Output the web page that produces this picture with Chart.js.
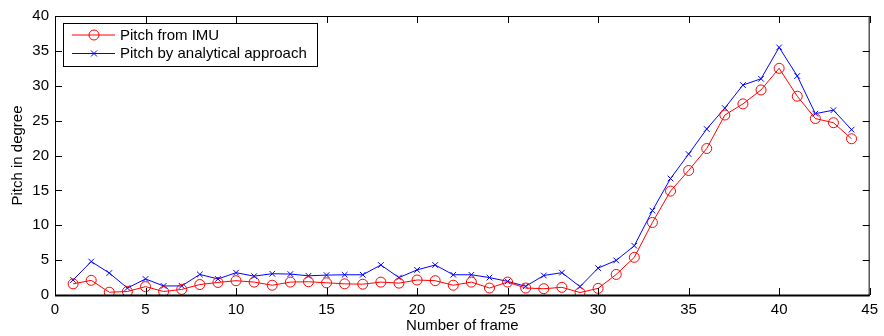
<!DOCTYPE html><html lang="en">
<head>
  <meta charset="UTF-8"/>
  <title>Pitch per frame</title>
  <script src="https://cdn.jsdelivr.net/npm/chart.js"></script>
  <style>
    *{box-sizing:border-box;margin:0;padding:0}
    body{background:#fff;width:884px;height:336px;overflow:hidden}
    canvas{display:block}
  </style>
</head>
<body>
  <canvas id="pitch" width="884" height="336"></canvas>
  <script>
    // data
    const frames = [1,2,3,4,5,6,7,8,9,10,11,12,13,14,15,16,17,18,19,20,21,22,23,24,25,26,27,28,29,30,31,32,33,34,35,36,37,38,39,40,41,42,43,44];
    const pitchImu = [1.6,2.1,0.4,0.5,1.2,0.5,0.8,1.5,1.8,2.05,1.85,1.4,1.85,1.9,1.75,1.6,1.55,1.85,1.7,2.15,2.05,1.4,1.85,1.0,1.85,1.0,0.9,1.1,0.35,0.95,2.95,5.4,10.4,14.9,17.85,21.0,25.8,27.4,29.4,32.5,28.5,25.3,24.7,22.4];
    const pitchAnalytic = [2.15,4.8,3.15,1.0,2.3,1.3,1.3,2.95,2.3,3.2,2.7,3.05,3.0,2.75,2.85,2.9,2.9,4.3,2.5,3.6,4.3,2.9,2.9,2.5,1.95,1.25,2.8,3.2,1.2,3.85,4.96,7.06,12.1,16.7,20.2,23.8,26.8,30.1,31.0,35.5,31.4,26.0,26.5,23.7];
    const xTicks = [0,5,10,15,20,25,30,35,40,45];
    const yTicks = [0,5,10,15,20,25,30,35,40];
    const seriesNames = ['Pitch from IMU','Pitch by analytical approach'];

    const FONT = "'Liberation Sans', Arial, Helvetica, sans-serif";
    const FS = 15;
    const pts = vals => frames.map((f,i)=>({x:f,y:vals[i]}));

    // MATLAB-ish box, inward ticks and legend
    const axesDeco = {
      id:'axesDeco',
      afterDraw(chart){
        const {ctx,chartArea:a,scales:{x,y}} = chart;
        ctx.save();
        ctx.strokeStyle='#000';ctx.lineWidth=1;
        ctx.strokeRect(a.left+0.5,a.top+0.5,a.right-a.left-1,a.bottom-a.top);
        ctx.beginPath();
        const tl=7;
        xTicks.forEach(v=>{
          const px=Math.round(x.getPixelForValue(v))+0.5;
          ctx.moveTo(px,a.bottom);ctx.lineTo(px,a.bottom-tl);
          ctx.moveTo(px,a.top);ctx.lineTo(px,a.top+tl);
        });
        yTicks.forEach(v=>{
          const py=Math.round(y.getPixelForValue(v))+0.5;
          ctx.moveTo(a.left,py);ctx.lineTo(a.left+tl,py);
          ctx.moveTo(a.right,py);ctx.lineTo(a.right-tl,py);
        });
        ctx.stroke();
        ctx.lineWidth=2;
        ctx.beginPath();ctx.moveTo(a.left,a.bottom+0.5);ctx.lineTo(a.right,a.bottom+0.5);ctx.stroke();

        // legend box
        const lx=a.left+8, ly=a.top+7, lw=254, lh=43;
        ctx.lineWidth=1;
        ctx.fillStyle='#fff';
        ctx.fillRect(lx,ly,lw,lh);
        ctx.strokeStyle='#000';
        ctx.strokeRect(lx+0.5,ly+0.5,lw,lh);
        ctx.font=FS+'px '+FONT;
        ctx.textBaseline='middle';
        chart.data.datasets.forEach((ds,i)=>{
          const ry=ly+12+i*18.5;
          ctx.strokeStyle=ds.borderColor;
          ctx.beginPath();ctx.moveTo(lx+9,ry);ctx.lineTo(lx+52,ry);ctx.stroke();
          ctx.beginPath();
          const mx=lx+31;
          if(i===0){ctx.arc(mx,ry,5,0,Math.PI*2);}
          else{ctx.moveTo(mx-3,ry-3);ctx.lineTo(mx+3,ry+3);ctx.moveTo(mx+3,ry-3);ctx.lineTo(mx-3,ry+3);}
          ctx.stroke();
          ctx.fillStyle='#000';
          ctx.fillText(ds.label,lx+57,ry+0.5);
        });
        ctx.restore();
      }
    };

    new Chart(document.getElementById('pitch'),{
      type:'line',
      data:{datasets:[
        {label:seriesNames[0],data:pts(pitchImu),borderColor:'#ff0000',backgroundColor:'rgba(0,0,0,0)',borderWidth:1,
         pointStyle:'circle',pointRadius:5,pointBorderColor:'#ff0000',pointBackgroundColor:'rgba(0,0,0,0)',pointBorderWidth:1,tension:0},
        {label:seriesNames[1],data:pts(pitchAnalytic),borderColor:'#0000ff',backgroundColor:'rgba(0,0,0,0)',borderWidth:1,
         pointStyle:'crossRot',pointRadius:4,pointBorderColor:'#0000ff',pointBorderWidth:1,tension:0}
      ]},
      options:{
        responsive:false,animation:false,devicePixelRatio:1,
        layout:{padding:{top:16,right:10,left:0,bottom:0}},
        plugins:{legend:{display:false},tooltip:{enabled:false}},
        scales:{
          x:{type:'linear',min:0,max:45,
            afterFit:s=>{s.height=41;},
            afterBuildTicks:s=>{s.ticks=xTicks.map(v=>({value:v}));},
            grid:{display:false,drawTicks:false},border:{display:false},
            ticks:{color:'#000',font:{family:FONT,size:FS},padding:6,maxRotation:0,autoSkip:false},
            title:{display:true,text:'Number of frame',color:'#000',font:{family:FONT,size:FS},padding:{top:0,bottom:1}}},
          y:{min:0,max:40,
            afterFit:s=>{s.width=55;},
            afterBuildTicks:s=>{s.ticks=yTicks.map(v=>({value:v}));},
            grid:{display:false,drawTicks:false},border:{display:false},
            ticks:{color:'#000',font:{family:FONT,size:FS},padding:6,autoSkip:false},
            title:{display:true,text:'Pitch in degree',color:'#000',font:{family:FONT,size:FS},padding:{top:9,bottom:0}}}
        }
      },
      plugins:[axesDeco]
    });
  </script>
</body>
</html>
